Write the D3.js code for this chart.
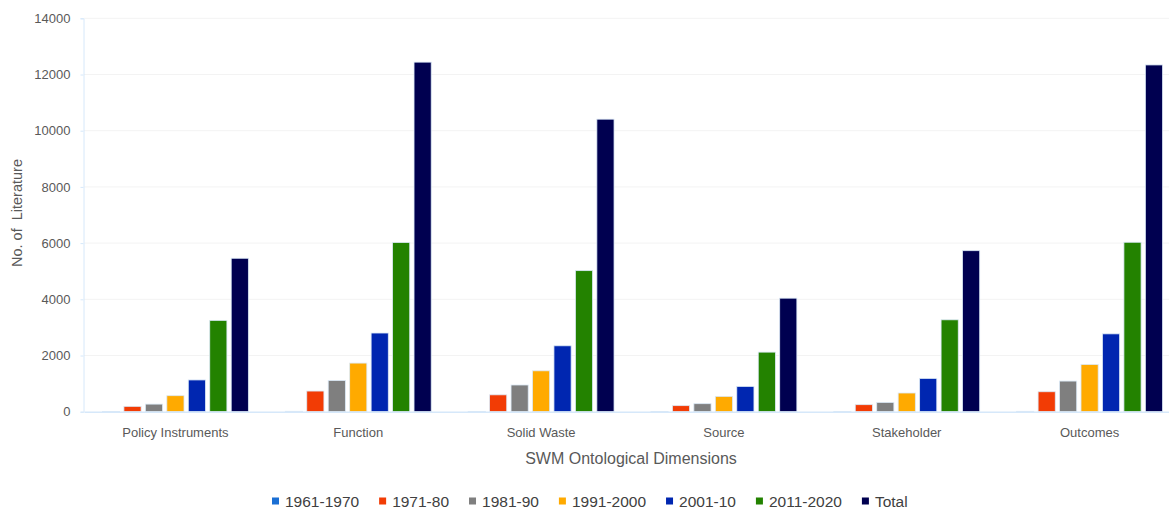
<!DOCTYPE html>
<html>
<head>
<meta charset="utf-8">
<script src="https://cdn.jsdelivr.net/npm/d3@7/dist/d3.min.js"></script>
<style>
  html, body { margin: 0; padding: 0; background: #ffffff; }
  svg { display: block; }
</style>
</head>
<body>
<svg id="chart" width="1169" height="511"></svg>
<script>
// Literature counts per SWM ontological dimension, by decade
const categories = ["Policy Instruments", "Function", "Solid Waste", "Source", "Stakeholder", "Outcomes"];
const seriesNames = ["1961-1970", "1971-80", "1981-90", "1991-2000", "2001-10", "2011-2020", "Total"];
const s1961_1970 = [10, 15, 12, 5, 8, 14];
const s1971_80   = [190, 735, 600, 215, 250, 710];
const s1981_90   = [270, 1110, 950, 285, 330, 1090];
const s1991_2000 = [570, 1730, 1455, 545, 665, 1680];
const s2001_10   = [1130, 2800, 2345, 900, 1185, 2770];
const s2011_2020 = [3250, 6020, 5020, 2120, 3270, 6030];
const sTotal     = [5460, 12440, 10410, 4040, 5730, 12340];
const yTicks = [0, 2000, 4000, 6000, 8000, 10000, 12000, 14000];
const colors = ["#1a6fd4", "#f23c05", "#7f7f7f", "#ffaa00", "#0026b0", "#238200", "#000050"];

const seriesValues = [s1961_1970, s1971_80, s1981_90, s1991_2000, s2001_10, s2011_2020, sTotal];

const svg = d3.select("#chart");
const font = "'Liberation Sans', Arial, sans-serif";

const x0 = d3.scaleBand().domain(categories).range([84, 1181]).paddingInner(0).paddingOuter(0);
const bw = x0.bandwidth();
const x1 = d3.scaleBand().domain(seriesNames)
  .range([bw * 0.101, bw * 0.899]).paddingInner(0.2).paddingOuter(0);
const y = d3.scaleLinear().domain([0, 14000]).range([411.7, 18.3]);

// horizontal gridlines
svg.append("g")
  .selectAll("line")
  .data(yTicks.filter(d => d > 0))
  .join("line")
  .attr("x1", 84).attr("x2", 1169)
  .attr("y1", d => y(d)).attr("y2", d => y(d))
  .attr("stroke", "#f3f3f3").attr("stroke-width", 1);

// y axis
const yAxis = svg.append("g")
  .attr("transform", "translate(83.5,0)")
  .call(d3.axisLeft(y).tickValues(yTicks).tickSize(3).tickPadding(10).tickFormat(d3.format("d")));
yAxis.select(".domain").attr("stroke", "#d6e8fa");
yAxis.selectAll(".tick line").attr("stroke", "#d6e8fa");
yAxis.selectAll(".tick text")
  .attr("fill", "#595959").attr("font-family", font).attr("font-size", "13px");

// bars
const groups = svg.append("g")
  .selectAll("g")
  .data(categories)
  .join("g")
  .attr("transform", d => `translate(${x0(d)},0)`);

groups.selectAll("rect")
  .data((c, ci) => seriesNames.map((s, si) => ({ series: s, value: seriesValues[si][ci], color: colors[si] })))
  .join("rect")
  .attr("x", d => x1(d.series))
  .attr("width", x1.bandwidth())
  .attr("y", d => y(d.value))
  .attr("height", d => y(0) - y(d.value))
  .attr("fill", d => d.color)
  .attr("stroke", "#dbe9f6")
  .attr("stroke-width", 0.8);

// x axis
const xAxis = svg.append("g")
  .attr("transform", `translate(0,${y(0)})`)
  .call(d3.axisBottom(x0).tickSize(0).tickPadding(16));
xAxis.select(".domain").attr("stroke", "#d6e8fa").attr("stroke-width", 1.5);
xAxis.selectAll(".tick text")
  .attr("fill", "#595959").attr("font-family", font).attr("font-size", "13px");

// axis titles
svg.append("text")
  .attr("x", 631).attr("y", 464)
  .attr("text-anchor", "middle")
  .attr("fill", "#595959").attr("font-family", font).attr("font-size", "16px")
  .text("SWM Ontological Dimensions");

svg.append("text")
  .attr("transform", "translate(22,213) rotate(-90)")
  .attr("text-anchor", "middle")
  .attr("fill", "#595959").attr("font-family", font).attr("font-size", "14.5px")
  .attr("xml:space", "preserve")
  .text("No. of  Literature");

// legend
const legend = svg.append("g");
let lx = 272;
seriesNames.forEach((name, i) => {
  legend.append("rect")
    .attr("x", lx).attr("y", 497.5).attr("width", 7).attr("height", 7)
    .attr("fill", colors[i]);
  const t = legend.append("text")
    .attr("x", lx + 13).attr("y", 506.5)
    .attr("fill", "#404040").attr("font-family", font).attr("font-size", "15.5px")
    .text(name);
  lx += 13 + t.node().getComputedTextLength() + 20;
});
</script>
</body>
</html>
